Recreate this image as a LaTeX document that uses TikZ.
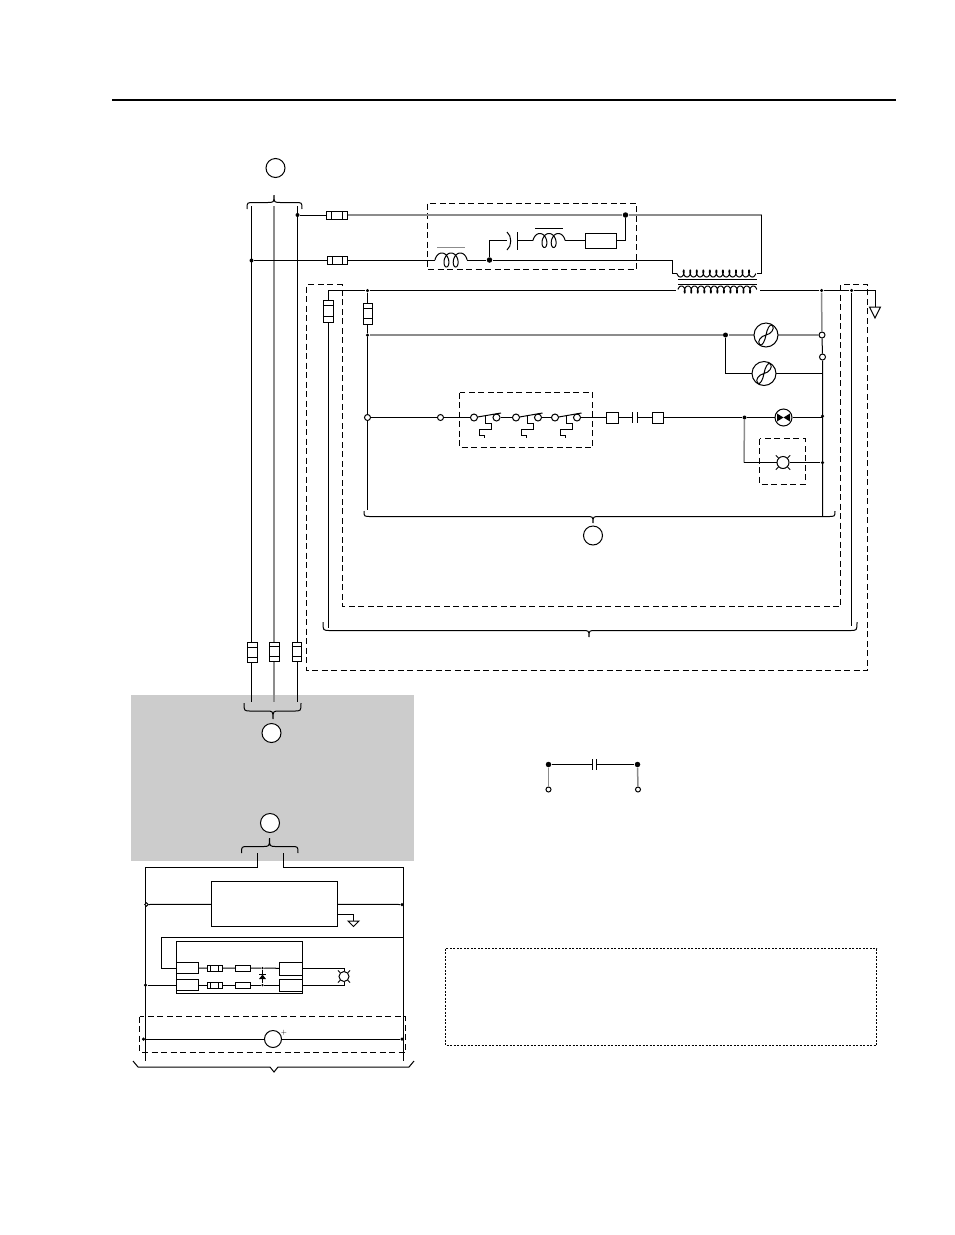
\documentclass[tikz,border=0pt]{standalone}
\tikzset{
    part/.style 2 args={draw,rectangle,minimum width=#1,minimum height=#2,inner sep=0pt,outer sep=0pt},
    dot/.style={circle,fill=black,inner sep=0pt,minimum size=#1},
    dot/.default=4,
    ring/.style={draw,circle,fill=white,inner sep=0pt,minimum size=#1},
    ring/.default=6,
    tag/.style={draw,circle,fill=white,inner sep=0pt,minimum size=19},
    fence/.style={dash pattern=on 6pt off 3.5pt},
    pale/.style={draw=black!45,line width=1.5pt},
}
% fuses: name, x, y, width, height
\newcommand{\fuseh}[5]{
    \node[part={#4}{#5},fill=white] (#1) at (#2,#3) {};
    \draw ([xshift=#4*0.25pt]#1.north west) -- ([xshift=#4*0.25pt]#1.south west);
    \draw ([xshift=-#4*0.25pt]#1.north east) -- ([xshift=-#4*0.25pt]#1.south east);
}
\newcommand{\fusev}[5]{
    \node[part={#4}{#5},fill=white] (#1) at (#2,#3) {};
    \draw ([yshift=-#5*0.25pt]#1.north west) -- ([yshift=-#5*0.25pt]#1.north east);
    \draw ([yshift=#5*0.25pt]#1.south west) -- ([yshift=#5*0.25pt]#1.south east);
}
% winding: x, y, turns, pitch, loop width, loop height
\newcommand{\winding}[6]{
    \draw plot[domain=-90:360*#3-270,samples=50*#3,variable=\t]
        ({#1+#4*(rad(\t)+pi/2)+#5*(sin(\t)+1)},{#2-#6*cos(\t)});
}
% brace: left, right, tip x, end y, line y, tip y
\newcommand{\curlyb}[6]{
    \draw (#1,#4) .. controls (#1,#5) and (#1,#5) .. (#1+7,#5) -- (#3-7,#5)
        .. controls (#3,#5) and (#3,#5) .. (#3,#6)
        .. controls (#3,#5) and (#3,#5) .. (#3+7,#5) -- (#2-7,#5)
        .. controls (#2,#5) and (#2,#5) .. (#2,#4);
}
% lamps: name, x, y
\newcommand{\slamp}[3]{
    \node[ring=24] (#1) at (#2,#3) {};
    \draw[shift={(#2,#3)}] (0,0) .. controls (-5,1) and (-9,6) .. (-6.5,9.5) .. controls (-4,12) and (-1,6) .. (0,0)
        .. controls (1,-6) and (4,-12) .. (6.5,-9.5) .. controls (9,-6) and (5,-1) .. (0,0);
}
\newcommand{\xlamp}[4]{
    \node[ring=2*#4] (#1) at (#2,#3) {};
    \foreach \a in {45,135,225,315}
        \draw (#1.\a) -- ++(-\a:#4*0.6);
}
\newcommand{\gnd}[4]{
    \draw (#1-#3,#2) -- (#1+#3,#2) -- (#1,#2+#4) -- cycle;
}
% switch contact: name, x of first ring, x of second ring, y
\newcommand{\contact}[4]{
    \node[ring=7] (#1a) at (#2,#4) {};
    \node[ring=7] (#1b) at (#3,#4) {};
    \draw (#2+3.5,#4-0.5) -- (#3+4.5,#4-4.5);
    \draw (#2+11,#4-1.5) -- ++(0,7.5) -- ++(6.5,0) -- ++(0,6) -- ++(-12.5,0) -- ++(0,5.5) -- ++(5.5,0) -- ++(0,2.5);
}
\begin{document}
\begin{tikzpicture}[x=1pt,y=-1pt,line width=1pt]
    \useasboundingbox (0,0) rectangle (954,1235);

    % page rule and grey field
    \coordinate (ruleL) at (112,100);
    \coordinate (ruleR) at (896,100);
    \draw[line width=2pt] (ruleL) -- (ruleR);
    \fill[black!20] (131,695) rectangle (414,861);

    % three phases
    \node[tag] (tagA) at (275.5,168) {};
    \curlyb{247}{302}{274}{209}{202.5}{195}
    \coordinate (phLt) at (251.5,206);
    \coordinate (phMt) at (274,206);
    \coordinate (phRt) at (297.5,206);
    \coordinate (phLb) at (251.5,702);
    \coordinate (phMb) at (274,702);
    \coordinate (phRb) at (297.5,702);
    \draw (phLt) -- (phLb);
    \draw[pale] (phMt) -- (phMb);
    \draw (phRt) -- (phRb);
    \fusev{fuL}{252}{652}{10}{20}
    \fusev{fuM}{274}{651.5}{10}{19}
    \fusev{fuR}{297}{651.5}{9}{19}
    \node[dot] (dotR) at (297.5,215) {};
    \node[dot] (dotL) at (251.5,260.5) {};

    % primary side
    \draw[fence] (427.5,203.5) rectangle (636.5,269.5);
    \fuseh{fuT}{337}{215}{21}{8}
    \fuseh{fuB}{337}{260.5}{20}{8}
    \node[dot=5.5] (dotTop) at (625.5,215) {};
    \node[dot=5.5] (dotMid) at (489.5,260) {};
    \coordinate (lTop) at (761.5,215);
    \coordinate (lSec) at (761.5,273.5);
    \coordinate (lEnd) at (757,273.5);
    \coordinate (lIn) at (672.5,260);
    \coordinate (lDown) at (672.5,273.5);
    \coordinate (lCoil) at (677,273.5);
    \draw (dotR) -- (fuT);
    \draw[pale] (fuT) -- (dotTop) -- (lTop);
    \draw (lTop) -- (lSec) -- (lEnd);
    \draw (dotL) -- (fuB) -- (435,260.5);
    \winding{435}{260}{3}{1.47}{4.5}{7}
    \draw[pale] (437,247.5) -- (465,247.5);
    \draw (467,260) -- (dotMid) -- (lIn) -- (lDown) -- (lCoil);
    % series branch
    \node[part={31}{15}] (resS) at (600.5,240.5) {};
    \coordinate (lCap) at (489.5,240.5);
    \draw (dotMid) -- (lCap) -- (507,240.5);
    \draw (507,232) .. controls (512,236) and (512,246) .. (507,250);
    \draw (517.5,232) -- (517.5,250);
    \draw (517.5,240.5) -- (533,240.5);
    \winding{533}{240.5}{3}{1.47}{4.5}{7}
    \draw (535,228.5) -- (563,228.5);
    \draw (565,240.5) -- (resS);
    \coordinate (lRes) at (625.5,240.5);
    \draw (resS) -- (lRes) -- (dotTop);

    % transformer
    \winding{677}{273.5}{12}{1.04}{1.8}{-3.5}
    \winding{678}{289.5}{12}{1.04}{1.8}{3.5}
    \draw (678,279.5) -- (757,279.5);
    \draw (678,284) -- (757,284);

    % secondary
    \draw[fence] (342.5,284.5) -- (306.5,284.5) -- (306.5,670.5) -- (867.5,670.5) -- (867.5,284.5) -- (840.5,284.5)
        -- (840.5,606.5) -- (342.5,606.5) -- cycle;
    \coordinate (sStart) at (328.5,290.5);
    \coordinate (sGnd) at (875.5,290.5);
    \coordinate (sGndB) at (875.5,307);
    \node[dot=3.5] (dotS) at (367.5,290.5) {};
    \node[dot=3.5] (dotP) at (821.5,290.5) {};
    \node[dot=3.5] (dotQ) at (851.5,290.5) {};
    \fusev{fuS}{328.5}{311}{10}{22}
    \fusev{fuC}{367.5}{313.5}{9}{21}
    \coordinate (sBot) at (328.5,628);
    \coordinate (qBot) at (851.5,626);
    \draw (sBot) -- (fuS) -- (sStart) -- (dotS) -- (676,290.5);
    \draw (760,290.5) -- (dotP) -- (dotQ) -- (sGnd) -- (sGndB);
    \gnd{875}{307}{5.5}{11}
    \draw (dotQ) -- (qBot);

    % control circuit
    \node[dot=3.5] (dotA) at (367.5,335) {};
    \node[ring] (ringA) at (367.5,417.5) {};
    \coordinate (aBot) at (367.5,510);
    \draw (dotS) -- (fuC) -- (dotA) -- (ringA) -- (aBot);
    \node[dot=5] (dotG) at (725.5,335) {};
    \coordinate (gLeft) at (742,335);
    \coordinate (gOut) at (789,335);
    \node[ring] (ringP) at (822,335) {};
    \node[ring] (ringQ) at (822.5,357) {};
    \coordinate (gDown) at (725.5,373.5);
    \coordinate (gRight) at (822.5,373.5);
    \coordinate (pBot) at (822.5,516.5);
    \draw[pale] (dotA) -- (dotG) -- (gLeft) -- (gOut) -- (ringP);
    \draw (dotG) -- (gDown) -- (gRight);
    \draw[pale] (dotP) -- (ringP);
    \draw (ringP) -- (ringQ) -- (pBot);
    \slamp{lampG}{766}{335}
    \slamp{lampH}{764}{373.5}

    \draw[fence] (459.5,392.5) rectangle (592.5,447.5);
    \node[ring] (ringB) at (440.5,417.5) {};
    \contact{swA}{474}{496.5}{417.5}
    \contact{swB}{516}{538}{417.5}
    \contact{swC}{555}{577}{417.5}
    \node[part={12}{11}] (boxA) at (612,417.5) {};
    \node[part={11}{11}] (boxB) at (657.5,417.5) {};
    \draw (632.5,412) -- (632.5,423);
    \draw (637,412) -- (637,423);
    \node[dot] (dotH) at (744.5,417.5) {};
    \node[ring=17] (lampT) at (783.5,417.5) {};
    \fill (777,413.5) -- (783.5,417.5) -- (777,421.5) -- cycle;
    \fill (790,413.5) -- (783.5,417.5) -- (790,421.5) -- cycle;
    \node[dot=3.5] (dotT) at (822.5,416) {};
    \draw (ringA) -- (ringB) -- (swAa);
    \draw (swAb) -- (swBa);
    \draw (swBb) -- (swCa);
    \draw (swCb) -- (boxA) -- (632.5,417.5);
    \draw (637,417.5) -- (boxB) -- (dotH) -- (lampT) -- (822.5,417.5);
    \draw[fence] (759.5,438.5) rectangle (805,484);
    \xlamp{lampX}{783}{462.5}{6}
    \node[dot=3.5] (dotX) at (822.5,462.5) {};
    \coordinate (hDown) at (744,462.5);
    \draw[pale] (dotH) -- (hDown);
    \draw (hDown) -- (lampX) -- (dotX);

    \curlyb{364}{835}{593}{511}{516.5}{523}
    \node[tag] (tagB) at (593,535.5) {};
    \curlyb{323}{857}{589}{622}{630.5}{637}

    % grey field markers
    \curlyb{244}{301}{273}{703}{711}{719}
    \node[tag] (tagC) at (271.5,733) {};
    \node[tag] (tagD) at (270,823) {};
    \curlyb{241.5}{298}{269.5}{853}{846.5}{838}

    % capacitor key
    \node[dot=5.5] (keyL) at (548.5,764.5) {};
    \node[dot=5.5] (keyR) at (637.5,764.5) {};
    \node[ring=5] (keyLb) at (548.5,789.5) {};
    \node[ring=5] (keyRb) at (638,789.5) {};
    \draw (keyL) -- (592,764.5);
    \draw (596,764.5) -- (keyR);
    \draw (592,759) -- (592,769.5);
    \draw (596,759) -- (596,769.5);
    \draw[pale] (keyL) -- (keyLb);
    \draw[pale] (keyR) -- (keyRb);

    % note frame
    \draw[line width=0.7pt,dash pattern=on 2pt off 1.5pt] (445.5,948.5) rectangle (876.5,1045.5);

    % lower unit
    \coordinate (uLt) at (257.5,853);
    \coordinate (uRt) at (283.5,853);
    \coordinate (uLc) at (257.5,867.5);
    \coordinate (uRc) at (283.5,867.5);
    \coordinate (uLe) at (145.5,867.5);
    \coordinate (uRe) at (403.5,867.5);
    \coordinate (uLb) at (145.5,1061);
    \coordinate (uRb) at (403.5,1061);
    \draw (uLt) -- (uLc) -- (uLe) -- (uLb);
    \draw (uRt) -- (uRc) -- (uRe) -- (uRb);

    \node[part={126}{45}] (ctrl) at (274.5,904) {};
    \node[ring=3.5] (ctrlL) at (146.5,904.5) {};
    \node[dot=3.5] (ctrlR) at (402,904.5) {};
    \draw (ctrlL) -- (ctrl);
    \draw (ctrl) -- (ctrlR);
    \coordinate (gndA) at (337.5,914.5);
    \coordinate (gndB) at (353.5,914.5);
    \coordinate (gndC) at (353.5,921);
    \draw (gndA) -- (gndB) -- (gndC);
    \gnd{353.5}{921}{5.5}{5.5}

    \node[part={126}{52}] (module) at (239,967.5) {};
    \coordinate (loopA) at (403.5,937.5);
    \coordinate (loopB) at (161.5,937.5);
    \coordinate (loopC) at (161.5,968);
    \node[part={22.5}{11.5}] (inA) at (187.25,968) {};
    \node[part={22.5}{11}] (inB) at (187.25,985) {};
    \node[part={23}{13}] (outA) at (290.5,968.5) {};
    \node[part={23}{12}] (outB) at (290.5,985) {};
    \fuseh{fmA}{214.5}{968}{15}{6}
    \fuseh{fmB}{214.5}{985}{15}{6}
    \node[part={15.5}{6}] (rmA) at (242.75,968) {};
    \node[part={15.5}{6}] (rmB) at (242.75,985) {};
    \node[dot=2.5] (junA) at (262.5,968) {};
    \node[dot=2.5] (junB) at (262.5,985) {};
    \draw (loopA) -- (loopB) -- (loopC) -- (inA);
    \draw (inA) -- (fmA) -- (rmA) -- (junA) -- (outA);
    \draw (inB) -- (fmB) -- (rmB) -- (junB) -- (outB);
    \draw (junA) -- (junB);
    \fill (262.5,974.5) -- (266,979) -- (259,979) -- cycle;
    \draw (259,974.5) -- (266,974.5);
    \node[dot=3.5] (dotU) at (145.5,985) {};
    \draw (dotU) -- (inB);
    \xlamp{lampU}{344}{976.5}{5}
    \coordinate (uA) at (344,968.5);
    \coordinate (uB) at (344,985);
    \draw (outA) -- (uA) -- (lampU);
    \draw (outB) -- (uB) -- (lampU);

    \draw[fence] (139.5,1016.5) rectangle (405.5,1052);
    \node[dot=3.5] (dotV) at (143.5,1039) {};
    \node[dot=3.5] (dotW) at (402,1039) {};
    \node[ring=17] (meter) at (273,1039) {};
    \node[font=\scriptsize,inner sep=0pt] (plus) at (284,1033) {+};
    \draw (dotV) -- (meter) -- (dotW);

    \draw (133,1061) -- (138,1067) -- (270,1067) -- (274,1072) -- (278,1067) -- (409,1067) -- (414,1061);
\end{tikzpicture}
\end{document}
